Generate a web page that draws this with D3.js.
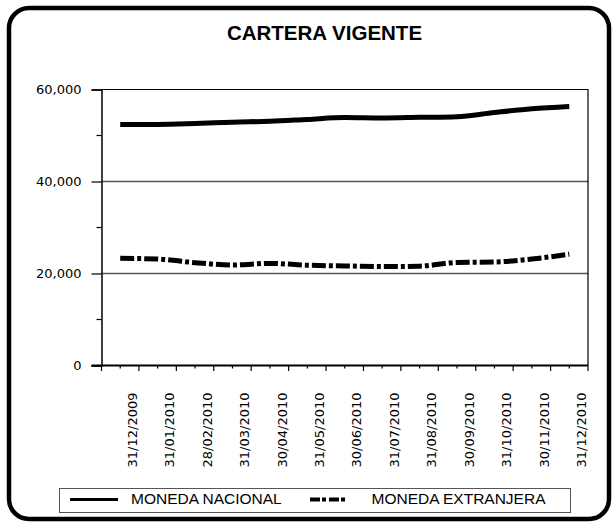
<!DOCTYPE html>
<html>
<head>
<meta charset="utf-8">
<script src="https://cdn.jsdelivr.net/npm/d3@7"></script>
<style>
  body { margin: 0; background: #fff; }
  svg { display: block; }
</style>
</head>
<body>
<div id="vis"></div>
<script>
const width = 616;
const height = 523;

// fechas de corte (eje x)
const fechas = ["31/12/2009", "31/01/2010", "28/02/2010", "31/03/2010", "30/04/2010",
  "31/05/2010", "30/06/2010", "31/07/2010", "31/08/2010", "30/09/2010",
  "31/10/2010", "30/11/2010", "31/12/2010"];

// saldos
const nacional = [52400, 52400, 52600, 52900, 53100, 53500, 53900, 53800, 53950, 54100, 55000, 55800, 56300];
const extranjera = [23300, 23150, 22350, 21850, 22200, 21800, 21650, 21500, 21600, 22400, 22500, 23150, 24200];

const yTicks = [0, 20000, 40000, 60000];
const yMinor = [10000, 30000, 50000];

const margin = { top: 89.5, right: 28, bottom: 157.5, left: 101.5 };

const svg = d3.select("#vis").append("svg")
  .attr("width", width)
  .attr("height", height);

// marco exterior redondeado
svg.append("rect")
  .attr("x", 9).attr("y", 8)
  .attr("width", 600).attr("height", 511)
  .attr("rx", 20).attr("ry", 20)
  .attr("fill", "#fff")
  .attr("stroke", "#000")
  .attr("stroke-width", 4.5);

svg.append("text")
  .attr("x", 324.5).attr("y", 40)
  .attr("text-anchor", "middle")
  .style("font-family", "'Liberation Sans', Arial, sans-serif")
  .style("font-weight", "bold")
  .style("font-size", "20.5px")
  .text("CARTERA VIGENTE");

const x = d3.scaleBand()
  .domain(fechas)
  .range([margin.left, width - margin.right]);

const y = d3.scaleLinear()
  .domain([0, 60000])
  .range([height - margin.bottom, margin.top]);

const xc = d => x(d) + x.bandwidth() / 2;

// lineas de division
svg.append("g").selectAll("line")
  .data([20000, 40000]).enter().append("line")
  .attr("x1", x.range()[0]).attr("x2", x.range()[1])
  .attr("y1", d => y(d)).attr("y2", d => y(d))
  .attr("stroke", "#555")
  .attr("stroke-width", 1.5);

// borde superior y derecho del area de trazado
svg.append("path")
  .attr("d", `M${x.range()[0]},${y(60000)}H${x.range()[1]}V${y(0)}`)
  .attr("fill", "none")
  .attr("stroke", "#000")
  .attr("stroke-width", 1.2);

// eje y
const yAxis = d3.axisLeft(y)
  .tickValues(yTicks)
  .tickSize(10)
  .tickPadding(10)
  .tickFormat(d3.format(","));

const gy = svg.append("g")
  .attr("transform", `translate(${margin.left},0)`)
  .call(yAxis);
gy.select(".domain").attr("stroke-width", 1.5);
gy.selectAll(".tick line").attr("stroke-width", 1.2);
gy.selectAll("text")
  .style("font-family", "'DejaVu Sans', Verdana, sans-serif")
  .style("font-size", "13px")
  .attr("fill", "#000");

svg.append("g").selectAll("line")
  .data(yMinor).enter().append("line")
  .attr("x1", margin.left - 5).attr("x2", margin.left)
  .attr("y1", d => y(d)).attr("y2", d => y(d))
  .attr("stroke", "#000")
  .attr("stroke-width", 1.2);

// eje x
const bottom = y(0);
const gx = svg.append("g");
gx.append("line")
  .attr("x1", x.range()[0] - 10).attr("x2", x.range()[1])
  .attr("y1", bottom).attr("y2", bottom)
  .attr("stroke", "#000").attr("stroke-width", 2);

const bounds = [x.range()[0]].concat(fechas.map(d => x(d) + x.bandwidth()));
gx.selectAll(".major").data(bounds).enter().append("line")
  .attr("x1", d => d).attr("x2", d => d)
  .attr("y1", bottom).attr("y2", bottom + 5.5)
  .attr("stroke", "#000").attr("stroke-width", 1.2);
gx.selectAll(".minor").data(fechas).enter().append("line")
  .attr("x1", d => xc(d)).attr("x2", d => xc(d))
  .attr("y1", bottom).attr("y2", bottom + 3)
  .attr("stroke", "#000").attr("stroke-width", 1.2);

gx.selectAll("text").data(fechas).enter().append("text")
  .attr("transform", d => `translate(${x(d) + x.bandwidth() - 2},${bottom + 27}) rotate(-90)`)
  .attr("text-anchor", "end")
  .style("font-family", "'DejaVu Sans', Verdana, sans-serif")
  .style("font-size", "13px")
  .text(d => d);

// series
const line = d3.line()
  .x((d, i) => xc(fechas[i]))
  .y(d => y(d))
  .curve(d3.curveMonotoneX);

svg.append("path")
  .datum(nacional)
  .attr("d", line)
  .attr("fill", "none")
  .attr("stroke", "#000")
  .attr("stroke-width", 5);

svg.append("path")
  .datum(extranjera)
  .attr("d", line)
  .attr("fill", "none")
  .attr("stroke", "#000")
  .attr("stroke-width", 5)
  .attr("stroke-dasharray", "14,3,4,3");

// leyenda
const legend = svg.append("g");
legend.append("rect")
  .attr("x", 59.5).attr("y", 488.5)
  .attr("width", 511).attr("height", 24)
  .attr("fill", "#fff")
  .attr("stroke", "#555")
  .attr("stroke-width", 1);

legend.append("line")
  .attr("x1", 70).attr("x2", 118)
  .attr("y1", 499.5).attr("y2", 499.5)
  .attr("stroke", "#000").attr("stroke-width", 3);
legend.append("line")
  .attr("x1", 310).attr("x2", 348)
  .attr("y1", 499.5).attr("y2", 499.5)
  .attr("stroke", "#000").attr("stroke-width", 4)
  .attr("stroke-dasharray", "10,2,4,3");

legend.selectAll("text")
  .data([["MONEDA NACIONAL", 131], ["MONEDA EXTRANJERA", 371.5]])
  .enter().append("text")
  .attr("x", d => d[1]).attr("y", 503.5)
  .style("font-family", "'Liberation Sans', Arial, sans-serif")
  .style("font-size", "15.5px")
  .text(d => d[0]);
</script>
</body>
</html>
